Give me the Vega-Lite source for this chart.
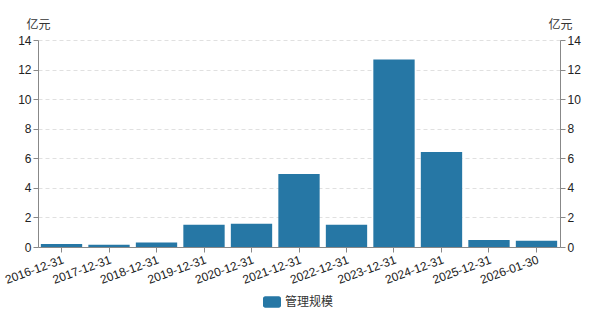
{
  "$schema": "https://vega.github.io/schema/vega-lite/v6.json",
  "width": 522,
  "height": 207,
  "autosize": {"type": "none"},
  "padding": {"left": 38, "top": 40, "right": 40, "bottom": 65},
  "background": "white",
  "config": {
    "font": "Liberation Sans, Noto Sans CJK SC, sans-serif",
    "view": {"stroke": null},
    "axis": {"labelFont": "Liberation Sans, Noto Sans CJK SC", "titleFont": "Noto Sans CJK SC", "labelColor": "#222", "titleColor": "#333"}
  },
  "data": {
    "values": [
      {"date": "2016-12-31", "value": 0.2, "series": "管理规模"},
      {"date": "2017-12-31", "value": 0.15, "series": "管理规模"},
      {"date": "2018-12-31", "value": 0.3, "series": "管理规模"},
      {"date": "2019-12-31", "value": 1.5, "series": "管理规模"},
      {"date": "2020-12-31", "value": 1.57, "series": "管理规模"},
      {"date": "2021-12-31", "value": 4.93, "series": "管理规模"},
      {"date": "2022-12-31", "value": 1.5, "series": "管理规模"},
      {"date": "2023-12-31", "value": 12.68, "series": "管理规模"},
      {"date": "2024-12-31", "value": 6.42, "series": "管理规模"},
      {"date": "2025-12-31", "value": 0.47, "series": "管理规模"},
      {"date": "2026-01-30", "value": 0.43, "series": "管理规模"}
    ]
  },
  "encoding": {
    "x": {
      "field": "date",
      "type": "nominal",
      "sort": null,
      "scale": {"paddingInner": 0.13, "paddingOuter": 0.06},
      "axis": {
        "title": null,
        "labelAngle": -20,
        "labelAlign": "right",
        "labelBaseline": "top",
        "labelFontSize": 12,
        "labelPadding": 2,
        "tickSize": 5,
        "tickColor": "#888",
        "domainColor": "#888",
        "grid": false
      }
    }
  },
  "layer": [
    {
      "mark": {"type": "bar"},
      "encoding": {
        "y": {
          "field": "value",
          "type": "quantitative",
          "scale": {"domain": [0, 14]},
          "axis": {
            "title": "亿元",
            "titleAngle": 0,
            "titleX": 0,
            "titleY": -12,
            "titleAlign": "center",
            "titleBaseline": "alphabetic",
            "titleFontSize": 12,
            "titleFontWeight": "normal",
            "values": [0, 2, 4, 6, 8, 10, 12, 14],
            "labelFontSize": 12,
            "labelPadding": 2,
            "tickSize": 5,
            "tickColor": "#888",
            "domainColor": "#888",
            "grid": true,
            "gridColor": "#e0e0e0",
            "gridDash": [4, 3]
          }
        },
        "color": {
          "field": "series",
          "type": "nominal",
          "scale": {"range": ["#2677a5"]},
          "legend": {
            "title": null,
            "orient": "none",
            "legendX": 225,
            "legendY": 253,
            "symbolType": "M-0.75,-0.65 L0.75,-0.65 A0.25,0.25 0 0 1 1,-0.4 L1,0.4 A0.25,0.25 0 0 1 0.75,0.65 L-0.75,0.65 A0.25,0.25 0 0 1 -1,0.4 L-1,-0.4 A0.25,0.25 0 0 1 -0.75,-0.65 Z",
            "symbolSize": 324,
            "symbolStrokeWidth": 0,
            "labelFontSize": 12,
            "labelFont": "Noto Sans CJK SC",
            "labelColor": "#333"
          }
        }
      }
    },
    {
      "mark": {"type": "bar", "opacity": 0},
      "encoding": {
        "y": {
          "field": "value",
          "type": "quantitative",
          "scale": {"domain": [0, 14]},
          "axis": {
            "orient": "right",
            "title": "亿元",
            "titleAngle": 0,
            "titleX": 0,
            "titleY": -12,
            "titleAlign": "center",
            "titleBaseline": "alphabetic",
            "titleFontSize": 12,
            "titleFontWeight": "normal",
            "values": [0, 2, 4, 6, 8, 10, 12, 14],
            "labelFontSize": 12,
            "labelPadding": 2,
            "tickSize": 5,
            "tickColor": "#888",
            "domainColor": "#888",
            "grid": false
          }
        }
      }
    }
  ],
  "resolve": {"scale": {"y": "independent"}}
}
